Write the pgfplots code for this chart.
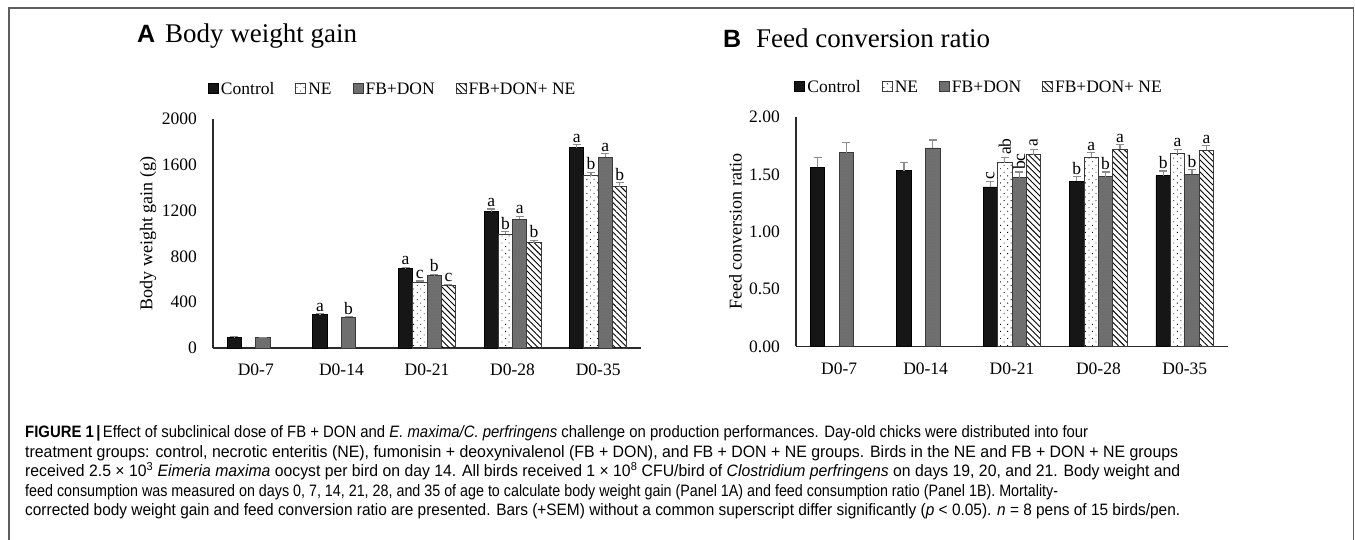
\documentclass[border=0pt]{standalone}
\usepackage{fontspec}
\setmainfont{Liberation Serif}
\newfontfamily\capfont{Liberation Sans}
\newfontfamily\panelfont{Liberation Sans}
\usepackage{graphicx}
\usepackage{pgfplots}
\usepackage{pgfplotstable}
\pgfplotsset{compat=1.18}
\usetikzlibrary{patterns,patterns.meta}

\definecolor{ctrlfill}{HTML}{161616}
\definecolor{baredge}{HTML}{3A3A3A}
\definecolor{fbdonfill}{HTML}{6E6E6E}
\definecolor{semcol}{HTML}{8C8C8C}
\definecolor{framecol}{HTML}{5E5E5E}
\definecolor{axiscol}{HTML}{2A2A2A}

\newcommand{\tickfont}{\fontsize{17.5}{20}\selectfont}
\newcommand{\labfont}{\fontsize{18}{21}\selectfont}
\newcommand{\letfont}{\fontsize{17.5}{20}\selectfont}

% ---------- Body weight gain (g): day block, mean, SEM, letter ----------
\pgfplotstableread{
x y e lab
0 96 3 {}
1 293 5 a
2 692 14 a
3 1192 22 a
4 1748 30 a
}\bwgCtrl
\pgfplotstableread{
x y e lab
2 573 12 c
3 995 22 b
4 1503 32 b
}\bwgNE
\pgfplotstableread{
x y e lab
0 90 3 {}
1 270 6 b
2 631 14 b
3 1126 24 a
4 1667 30 a
}\bwgFB
\pgfplotstableread{
x y e lab
2 544 12 c
3 919 22 b
4 1410 32 b
}\bwgFBNE

% ---------- Feed conversion ratio ----------
\pgfplotstableread{
x y e lab
0 1.56 0.09 {}
1 1.53 0.07 {}
2 1.39 0.05 c
3 1.44 0.04 b
4 1.49 0.04 b
}\fcrCtrl
\pgfplotstableread{
x y e lab
2 1.60 0.05 ab
3 1.65 0.04 a
4 1.68 0.04 a
}\fcrNE
\pgfplotstableread{
x y e lab
0 1.69 0.09 {}
1 1.73 0.07 {}
2 1.47 0.05 bc
3 1.48 0.04 b
4 1.50 0.04 b
}\fcrFB
\pgfplotstableread{
x y e lab
2 1.67 0.05 a
3 1.72 0.04 a
4 1.71 0.04 a
}\fcrFBNE

% offsets of the four bars inside a day block (axis units)
\def\oA{-0.2505}
\def\oB{-0.0835}
\def\oC{0.0835}
\def\oD{0.2505}

\pgfplotsset{
  sqlegend/.style={legend image code/.code={\draw[##1] (0pt,-5pt) rectangle (10pt,5pt);}},
  grp bar/.style={ybar, bar width=0.167, bar shift=0pt, sqlegend, line width=0.9pt,
    /pgfplots/error bars/y dir=plus, /pgfplots/error bars/y explicit,
    /pgfplots/error bars/error bar style={semcol, line width=1.2pt},
    /pgfplots/error bars/error mark options={semcol, line width=1.2pt, mark size=4pt, rotate=90}},
  ctrl/.style={grp bar, fill=ctrlfill, draw=black},
  ne/.style={grp bar, draw=baredge, pattern={Dots[distance=5pt,angle=45,radius=0.6pt]}},
  fbdon/.style={grp bar, fill=fbdonfill, draw=baredge, postaction={pattern=crosshatch dots, pattern color=black!55}},
  fbdonne/.style={grp bar, draw=baredge, pattern={Lines[angle=-45,distance=4.2pt,line width=0.9pt]}},
  letters/.style={only marks, mark=none, forget plot,
    nodes near coords, point meta=explicit symbolic,
    every node near coord/.append style={font=\letfont, inner xsep=0.5pt, inner ysep=2pt, anchor=south, text=black}},
  upright/.style={every node near coord/.append style={rotate=90, anchor=west, inner xsep=2pt, inner ysep=0.5pt}},
  panel/.style={
    scale only axis, clip=false,
    xmin=-0.5, xmax=4.5, ymin=0,
    xtick={0,...,4}, xticklabels={D0-7,D0-14,D0-21,D0-28,D0-35},
    axis x line*=bottom, axis y line*=left,
    axis line style={-, axiscol, line width=1.1pt},
    major tick length=0pt,
    tick label style={font=\tickfont},
    /pgf/number format/assume math mode=true,
    xticklabel style={anchor=base, yshift=-28pt},
    yticklabel style={anchor=east, inner sep=0pt, xshift=-16pt},
    legend columns=4,
    legend style={draw=none, fill=none, inner sep=0pt, font=\tickfont, anchor=west,
      /tikz/every even column/.append style={column sep=19pt},
      nodes={inner xsep=2pt, inner ysep=0pt, text height=12pt, text depth=0pt}},
  },
}

\begin{document}
\begin{tikzpicture}
\useasboundingbox (0,0) rectangle (1355pt,540pt);
\draw[framecol, line width=1.4pt] (9pt,-5pt) -- (9pt,532pt) -- (1353.5pt,532pt) -- (1353.5pt,-5pt);

% ---------------- Panel A ----------------
\begin{axis}[panel,
  at={(213pt,192pt)}, anchor=south west,
  width=428pt, height=229pt,
  ymax=2000, ytick={0,400,...,2000},
  /pgf/number format/1000 sep={},
  ylabel={Body weight gain (g)},
  every axis y label/.style={at={(axis description cs:-0.152,0.5)}, rotate=90, anchor=center, font=\labfont},
  legend style={at={(axis description cs:-0.012,1.135)}},
]
\addplot[ctrl] table[x expr=\thisrow{x}+\oA, y=y, y error=e] {\bwgCtrl};
\addlegendentry{Control}
\addplot[ne] table[x expr=\thisrow{x}+\oB, y=y, y error=e] {\bwgNE};
\addlegendentry{NE}
\addplot[fbdon] table[x expr=\thisrow{x}+\oC, y=y, y error=e] {\bwgFB};
\addlegendentry{FB+DON}
\addplot[fbdonne] table[x expr=\thisrow{x}+\oD, y=y, y error=e] {\bwgFBNE};
\addlegendentry{FB+DON+ NE}

\addplot[letters, restrict x to domain=0.5:4.5] table[x expr=\thisrow{x}+\oA, y expr=\thisrow{y}+\thisrow{e}, meta=lab] {\bwgCtrl};
\addplot[letters] table[x expr=\thisrow{x}+\oB, y expr=\thisrow{y}+\thisrow{e}, meta=lab] {\bwgNE};
\addplot[letters, restrict x to domain=0.5:4.5] table[x expr=\thisrow{x}+\oC, y expr=\thisrow{y}+\thisrow{e}, meta=lab] {\bwgFB};
\addplot[letters] table[x expr=\thisrow{x}+\oD, y expr=\thisrow{y}+\thisrow{e}, meta=lab] {\bwgFBNE};
\end{axis}

% ---------------- Panel B ----------------
\begin{axis}[panel,
  at={(796pt,193.5pt)}, anchor=south west,
  width=432pt, height=229.5pt,
  ymax=2, ytick={0,0.5,...,2},
  yticklabel style={/pgf/number format/.cd, fixed, fixed zerofill, precision=2},
  ylabel={Feed conversion ratio},
  every axis y label/.style={at={(axis description cs:-0.140,0.5)}, rotate=90, anchor=center, font=\labfont},
  legend style={at={(axis description cs:-0.004,1.135)}},
]
\addplot[ctrl] table[x expr=\thisrow{x}+\oA, y=y, y error=e] {\fcrCtrl};
\addlegendentry{Control}
\addplot[ne] table[x expr=\thisrow{x}+\oB, y=y, y error=e] {\fcrNE};
\addlegendentry{NE}
\addplot[fbdon] table[x expr=\thisrow{x}+\oC, y=y, y error=e] {\fcrFB};
\addlegendentry{FB+DON}
\addplot[fbdonne] table[x expr=\thisrow{x}+\oD, y=y, y error=e] {\fcrFBNE};
\addlegendentry{FB+DON+ NE}

% letters for D0-28 and D0-35
\addplot[letters, restrict x to domain=2.5:4.5] table[x expr=\thisrow{x}+\oA, y expr=\thisrow{y}+\thisrow{e}, meta=lab] {\fcrCtrl};
\addplot[letters, restrict x to domain=2.5:4.5] table[x expr=\thisrow{x}+\oB, y expr=\thisrow{y}+\thisrow{e}, meta=lab] {\fcrNE};
\addplot[letters, restrict x to domain=2.5:4.5] table[x expr=\thisrow{x}+\oC, y expr=\thisrow{y}+\thisrow{e}, meta=lab] {\fcrFB};
\addplot[letters, restrict x to domain=2.5:4.5] table[x expr=\thisrow{x}+\oD, y expr=\thisrow{y}+\thisrow{e}, meta=lab] {\fcrFBNE};
% letters for D0-21, set vertically
\addplot[letters, upright, restrict x to domain=1.5:2.5] table[x expr=\thisrow{x}+\oA, y expr=\thisrow{y}+\thisrow{e}, meta=lab] {\fcrCtrl};
\addplot[letters, upright, restrict x to domain=1.5:2.5] table[x expr=\thisrow{x}+\oB, y expr=\thisrow{y}+\thisrow{e}, meta=lab] {\fcrNE};
\addplot[letters, upright, restrict x to domain=1.5:2.5] table[x expr=\thisrow{x}+\oC, y expr=\thisrow{y}+\thisrow{e}, meta=lab] {\fcrFB};
\addplot[letters, upright, restrict x to domain=1.5:2.5] table[x expr=\thisrow{x}+\oD, y expr=\thisrow{y}+\thisrow{e}, meta=lab] {\fcrFBNE};
\end{axis}

% ---------------- Panel titles ----------------
\node[anchor=base west, inner sep=0pt] at (137pt,497pt) {\panelfont\fontsize{25}{30}\selectfont\bfseries A};
\node[anchor=base west, inner sep=0pt] at (165pt,497pt) {\fontsize{27}{32}\selectfont Body weight gain};
\node[anchor=base west, inner sep=0pt] at (723pt,492pt) {\panelfont\fontsize{25}{30}\selectfont\bfseries B};
\node[anchor=base west, inner sep=0pt] at (756pt,492pt) {\fontsize{27}{32}\selectfont Feed conversion ratio};

% ---------------- Caption ----------------
\begin{scope}[every node/.style={anchor=base west, inner sep=0pt, font=\capfont\fontsize{16.5}{19}\selectfont}]
\node at (25pt,102pt) {\resizebox{1063pt}{\height}{\textbf{FIGURE 1\,|\,}Effect of subclinical dose of FB + DON and \textit{E. maxima/C. perfringens} challenge on production performances. Day-old chicks were distributed into four}};
\node at (25pt,82.5pt) {\resizebox{1153pt}{\height}{treatment groups: control, necrotic enteritis (NE), fumonisin + deoxynivalenol (FB + DON), and FB + DON + NE groups. Birds in the NE and FB + DON + NE groups}};
\node at (25pt,63pt) {\resizebox{1155pt}{\height}{received 2.5 × 10\textsuperscript{3} \textit{Eimeria maxima} oocyst per bird on day 14. All birds received 1 × 10\textsuperscript{8} CFU/bird of \textit{Clostridium perfringens} on days 19, 20, and 21. Body weight and}};
\node at (25pt,43.5pt) {\resizebox{1033pt}{\height}{feed consumption was measured on days 0, 7, 14, 21, 28, and 35 of age to calculate body weight gain (Panel 1A) and feed consumption ratio (Panel 1B). Mortality-}};
\node at (25pt,24pt) {\resizebox{1155pt}{\height}{corrected body weight gain and feed conversion ratio are presented. Bars (+SEM) without a common superscript differ significantly (\textit{p} < 0.05). \textit{n} = 8 pens of 15 birds/pen.}};
\end{scope}
\end{tikzpicture}
\end{document}
